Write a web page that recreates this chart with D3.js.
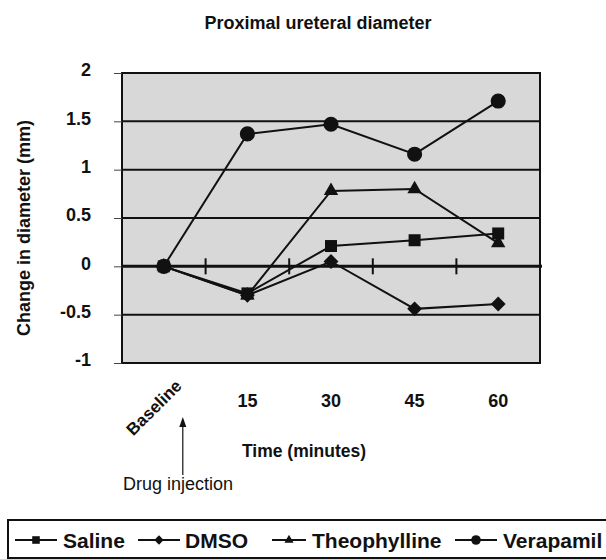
<!DOCTYPE html>
<html>
<head>
<meta charset="utf-8">
<script src="https://cdn.jsdelivr.net/npm/d3@7"></script>
<style>
  body { margin: 0; background: #fff; }
  text { font-family: "Liberation Sans", Arial, sans-serif; fill: #111; }
</style>
</head>
<body>
<svg id="chart" width="606" height="559"></svg>
<script>
// data
const categories = ["Baseline", "15", "30", "45", "60"];
const saline = [0, -0.28, 0.21, 0.27, 0.34];
const dmso = [0, -0.30, 0.05, -0.44, -0.39];
const theophylline = [0, -0.30, 0.78, 0.80, 0.24];
const verapamil = [0, 1.37, 1.47, 1.16, 1.71];
const yTicks = [-1, -0.5, 0, 0.5, 1, 1.5, 2];

const seriesNames = ["Saline", "DMSO", "Theophylline", "Verapamil"];
const seriesValues = [saline, dmso, theophylline, verapamil];
const symbols = [d3.symbolSquare, d3.symbolSquare, d3.symbolTriangle, d3.symbolCircle];
const symSize = [144, 110, 90, 180];
const symRotate = [0, 45, 0, 0];

let svg = d3.select('#chart');
let margin = {top: 73, left: 122, bottom: 196, right: 66};
let width = 606, height = 559;

let x = d3.scaleBand().domain(categories).range([margin.left, width - margin.right]);
let xc = (c) => x(c) + x.bandwidth() / 2;
let y = d3.scaleLinear().domain([-1, 2]).range([height - margin.bottom, margin.top]);

// plot background
svg.append("rect")
    .attr("x", margin.left).attr("y", margin.top)
    .attr("width", width - margin.left - margin.right)
    .attr("height", height - margin.top - margin.bottom)
    .attr("fill", "#d8d8d8")
    .attr("stroke", "#111").attr("stroke-width", 2);

// gridlines
svg.append("g").selectAll("line")
    .data(yTicks.filter(d => d !== 0))
    .enter().append("line")
    .attr("x1", margin.left).attr("x2", width - margin.right)
    .attr("y1", d => y(d)).attr("y2", d => y(d))
    .attr("stroke", "#111").attr("stroke-width", 2);

// y axis
let yAxis = d3.axisLeft(y).tickValues(yTicks).tickSize(8).tickPadding(23)
    .tickFormat(d => String(d));
let gy = svg.append("g")
    .attr("transform", "translate(" + margin.left + ",0)")
    .call(yAxis);
gy.select(".domain").remove();
gy.selectAll("line").attr("stroke", "#444").attr("stroke-width", 1);
gy.selectAll("text")
    .attr("dy", "0.15em")
    .style("font-size", "18px").style("font-weight", "bold").attr("fill", "#111");

// zero line with category ticks
svg.append("line")
    .attr("x1", margin.left).attr("x2", width - margin.right + 2)
    .attr("y1", y(0)).attr("y2", y(0))
    .attr("stroke", "#111").attr("stroke-width", 3);
svg.append("g").selectAll("line")
    .data(categories)
    .enter().append("line")
    .attr("x1", d => x(d) + x.bandwidth()).attr("x2", d => x(d) + x.bandwidth())
    .attr("y1", y(0) - 8).attr("y2", y(0) + 8)
    .attr("stroke", "#111").attr("stroke-width", 2);

// x labels
svg.append("g").selectAll("text")
    .data(categories.slice(1))
    .enter().append("text")
    .attr("x", d => xc(d)).attr("y", 407)
    .attr("text-anchor", "middle")
    .style("font-size", "18px").style("font-weight", "bold")
    .text(d => d);
svg.append("text")
    .attr("transform", "translate(" + (xc(categories[0]) + 19) + ",387) rotate(-45)")
    .attr("text-anchor", "end")
    .style("font-size", "17px").style("font-weight", "bold")
    .text(categories[0]);

// series
let line = d3.line().x((d, i) => xc(categories[i])).y(d => y(d));
seriesValues.forEach((vals, k) => {
    svg.append("path")
        .datum(vals)
        .attr("d", line)
        .attr("fill", "none").attr("stroke", "#111").attr("stroke-width", 2);
    svg.append("g").selectAll("path")
        .data(vals)
        .enter().append("path")
        .attr("transform", (d, i) => "translate(" + xc(categories[i]) + "," + y(d) + ") rotate(" + symRotate[k] + ")")
        .attr("d", d3.symbol().type(symbols[k]).size(symSize[k]))
        .attr("fill", "#111");
});

// titles
svg.append("text")
    .attr("x", 318).attr("y", 29)
    .attr("text-anchor", "middle")
    .style("font-size", "18px").style("font-weight", "bold")
    .text("Proximal ureteral diameter");

svg.append("text")
    .attr("transform", "translate(30,228) rotate(-90)")
    .attr("text-anchor", "middle")
    .style("font-size", "18px").style("font-weight", "bold")
    .text("Change in diameter (mm)");

svg.append("text")
    .attr("x", 304).attr("y", 457)
    .attr("text-anchor", "middle")
    .style("font-size", "17.5px").style("font-weight", "bold")
    .text("Time (minutes)");

// drug injection arrow
let ax = xc(categories[0]) + 19;
svg.append("line")
    .attr("x1", ax).attr("x2", ax).attr("y1", 424).attr("y2", 475)
    .attr("stroke", "#111").attr("stroke-width", 1.2);
svg.append("path")
    .attr("d", "M" + ax + ",417 L" + (ax - 3.5) + ",427 L" + (ax + 3.5) + ",427 Z")
    .attr("fill", "#111");
svg.append("text")
    .attr("x", 123).attr("y", 490)
    .style("font-size", "18px")
    .text("Drug injection");

// legend
svg.append("rect")
    .attr("x", 8).attr("y", 520).attr("width", 605).attr("height", 38)
    .attr("fill", "#fff").attr("stroke", "#111").attr("stroke-width", 2);
let lineX = [[15, 57], [138, 180], [272, 306], [455, 497]];
let textX = [63, 185, 312, 503];
let lg = svg.append("g").selectAll("g")
    .data(seriesNames)
    .enter().append("g")
    .attr("transform", "translate(0,540)");
lg.append("line")
    .attr("x1", (d, i) => lineX[i][0]).attr("x2", (d, i) => lineX[i][1])
    .attr("stroke", "#111").attr("stroke-width", 2);
lg.append("path")
    .attr("transform", (d, i) => "translate(" + (lineX[i][0] + lineX[i][1]) / 2 + ",0) rotate(" + symRotate[i] + ")")
    .attr("d", (d, i) => d3.symbol().type(symbols[i]).size(symSize[i] * 0.4)())
    .attr("fill", "#111");
lg.append("text")
    .attr("x", (d, i) => textX[i]).attr("dy", "0.36em")
    .style("font-size", "21px").style("font-weight", "bold")
    .text(d => d);
</script>
</body>
</html>
